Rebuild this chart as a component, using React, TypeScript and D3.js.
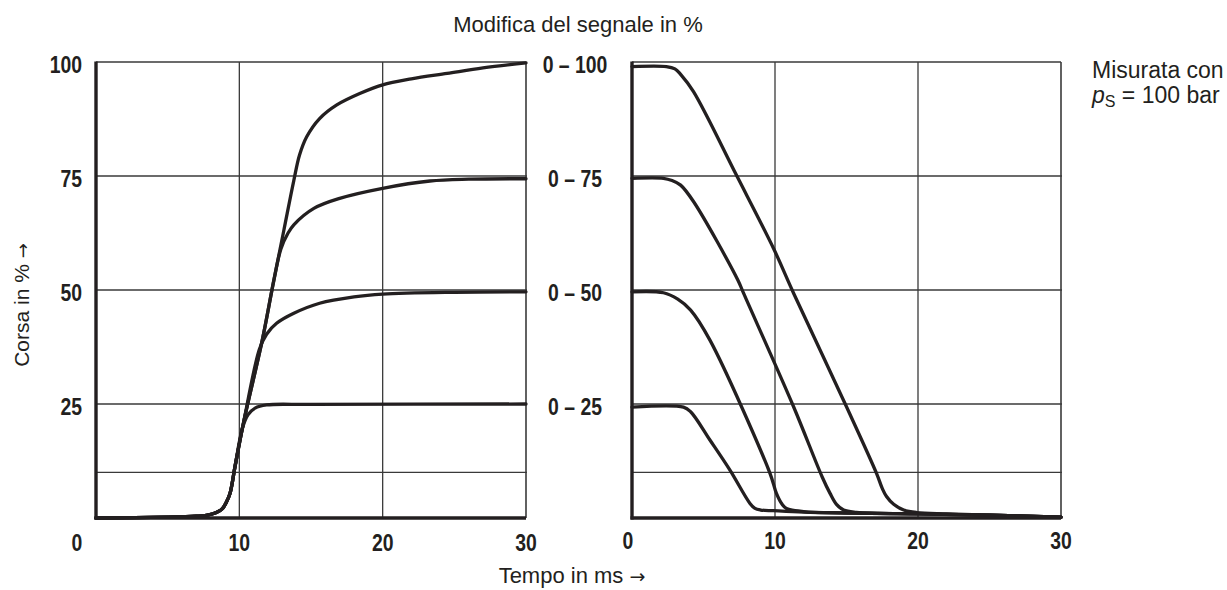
import React from 'react'
import * as d3 from 'd3'

// stroke in % after a step change of the signal, time in ms
const xTicks = [0, 10, 20, 30]
const yTicks = [100, 75, 50, 25]
const gridY = [75, 50, 25, 10]
const rangeLabels = ['0 – 100', '0 – 75', '0 – 50', '0 – 25']

// opening (left panel)
const open100: [number, number][] = [
  [0, 0], [5, 0.2], [7, 0.4], [7.7, 0.6], [8.4, 1.2], [8.8, 2], [9.1, 3.5], [9.35, 5.4], [9.7, 11.3],
  [10.3, 21], [11.6, 39], [12.4, 52], [13.1, 63], [13.8, 74], [14.2, 79.6], [14.7, 83.6], [15.6, 87.6],
  [16.8, 90.6], [18.4, 93.1], [20, 95], [22, 96.3], [24.5, 97.5], [27, 98.7], [30, 99.8],
]
const open75: [number, number][] = [
  [0, 0], [5, 0.2], [7, 0.4], [7.7, 0.6], [8.4, 1.2], [8.8, 2], [9.1, 3.5], [9.35, 5.4], [9.7, 11.3],
  [10.3, 21], [11.6, 39], [12.4, 52], [12.9, 59], [13.4, 62.5], [13.8, 64.3], [15.2, 67.9], [17, 70.1],
  [20, 72.3], [23.3, 73.9], [26, 74.3], [30, 74.4],
]
const open50: [number, number][] = [
  [0, 0], [5, 0.2], [7, 0.4], [7.7, 0.6], [8.4, 1.2], [8.8, 2], [9.1, 3.5], [9.35, 5.4], [9.7, 11.3],
  [10.3, 21], [11.4, 37], [11.9, 40.3], [12.6, 42.7], [13.8, 44.9], [15.6, 47.1], [18, 48.5], [20, 49.1],
  [25, 49.5], [30, 49.6],
]
const open25: [number, number][] = [
  [0, 0], [5, 0.2], [7, 0.4], [7.7, 0.6], [8.4, 1.2], [8.8, 2], [9.1, 3.5], [9.35, 5.4], [9.7, 11.3],
  [10.2, 19.5], [10.6, 22.6], [11.1, 24.1], [11.9, 24.8], [15, 24.9], [30, 25],
]

// closing (right panel)
const close100: [number, number][] = [
  [0, 99], [2.4, 99], [3.0, 98.5], [3.4, 97.3], [4.3, 93.5], [7.3, 75.2], [9.9, 59.1], [11.3, 49.3],
  [15, 24.4], [17.1, 9.8], [17.5, 6.5], [17.8, 4.7], [18.3, 3], [19, 1.75], [19.9, 1.2], [22, 0.9],
  [25, 0.6], [30, 0.2],
]
const close75: [number, number][] = [
  [0, 74.5], [2.2, 74.5], [2.8, 74], [3.4, 73], [4.3, 69.4], [7.4, 52.2], [7.8, 49.3], [11.3, 24.4],
  [13.3, 9], [13.85, 5.4], [14.3, 3], [14.8, 1.75], [15.7, 1.25], [20, 0.9], [25, 0.6], [30, 0.2],
]
const close50: [number, number][] = [
  [0, 49.6], [2.2, 49.4], [3.2, 48], [4.1, 45.6], [5.45, 39], [9.65, 9.8], [10.1, 5.4], [10.5, 3],
  [10.8, 2.1], [12, 1.4], [15, 1.1], [20, 0.9], [25, 0.6], [30, 0.2],
]
const close25: [number, number][] = [
  [0, 24.3], [3.6, 24.3], [4.1, 23.3], [5.45, 17.1], [6.85, 10.5], [8.25, 3.2], [8.6, 2.1], [9, 1.75],
  [9.9, 1.6], [12, 1.3], [15, 1.1], [20, 0.9], [25, 0.6], [30, 0.2],
]

const openSeries = [open100, open75, open50, open25]
const closeSeries = [close100, close75, close50, close25]

const W = 1227
const H = 590
const ink = '#231f20'
const gridColor = '#3a3a3a'
const sans = '"Liberation Sans", Arial, Helvetica, sans-serif'
const arrowFont = '"DejaVu Sans", sans-serif'

const y = d3.scaleLinear().domain([0, 100]).range([518, 62])

// bold, slightly condensed-looking numerals
function Num({ x, yPos, anchor, children }: { x: number, yPos: number, anchor: string, children: React.ReactNode }) {
  return (
    <text transform={`translate(${x},${yPos}) scale(0.97,1.15)`} textAnchor={anchor}
      fontFamily={sans} fontWeight="bold" fontSize={20} fill={ink}>{children}</text>
  )
}

function Panel({ left, right, series, zeroShift, labelY }: {
  left: number, right: number, series: [number, number][][], zeroShift: number, labelY: number
}) {
  const x = d3.scaleLinear().domain([0, 30]).range([left, right])
  const line = d3.line<[number, number]>()
    .x(d => x(d[0]))
    .y(d => y(d[1]))
    .curve(d3.curveCatmullRom.alpha(0.5))
  return (
    <g>
      {/* grid */}
      {gridY.map(v => (
        <line key={'h' + v} x1={x(0)} x2={x(30) + 1} y1={y(v)} y2={y(v)} stroke={gridColor} strokeWidth={1.3} />
      ))}
      {[10, 20].map(v => (
        <line key={'v' + v} x1={x(v)} x2={x(v)} y1={y(100)} y2={y(0)} stroke={gridColor} strokeWidth={1.3} />
      ))}
      <line x1={x(0)} x2={x(30)} y1={y(100)} y2={y(100)} stroke={gridColor} strokeWidth={1.5} />
      <line x1={x(30)} x2={x(30)} y1={y(100)} y2={y(0)} stroke={gridColor} strokeWidth={1.6} />
      {/* curves */}
      {series.map((s, i) => (
        <path key={i} d={line(s) ?? ''} fill="none" stroke={ink} strokeWidth={3.3} strokeLinejoin="round" strokeLinecap="round" />
      ))}
      {/* axes */}
      <line x1={x(0)} x2={x(0)} y1={y(100) - 0.5} y2={y(0) + 1.5} stroke={ink} strokeWidth={3.4} />
      <line x1={x(0) - 1.5} x2={x(30)} y1={y(0)} y2={y(0)} stroke={ink} strokeWidth={3.4} />
      {xTicks.map(v => (
        <Num key={v} x={x(v) + (v === 0 ? zeroShift : 0)} yPos={labelY} anchor="middle">{v}</Num>
      ))}
    </g>
  )
}

export default function App() {
  return (
    <svg width={W} height={H} viewBox={`0 0 ${W} ${H}`}
      style={{ position: 'absolute', left: 0, top: 0, background: '#fff' }}>
      <text x={578} y={32} textAnchor="middle" fontFamily={sans} fontSize={22} fill={ink}>Modifica del segnale in %</text>

      <Panel left={96} right={526} series={openSeries} zeroShift={-19} labelY={551} />
      <Panel left={632} right={1061} series={closeSeries} zeroShift={-4} labelY={549} />

      {yTicks.map(v => (
        <Num key={v} x={82} yPos={y(v) + 11} anchor="end">{v}</Num>
      ))}
      {rangeLabels.map((t, i) => (
        <Num key={t} x={575} yPos={y(yTicks[i]) + 11} anchor="middle">{t}</Num>
      ))}

      <text transform="translate(29,305) rotate(-90)" textAnchor="middle" fontFamily={sans} fontSize={21} fill={ink}>
        Corsa in % <tspan fontFamily={arrowFont} fontSize={18}>→</tspan>
      </text>
      <text x={572} y={583} textAnchor="middle" fontFamily={sans} fontSize={22} fill={ink}>
        Tempo in ms <tspan fontFamily={arrowFont} fontSize={19}>→</tspan>
      </text>

      <text x={1092} y={78} fontFamily={sans} fontSize={23} fill={ink}>Misurata con</text>
      <text x={1092} y={103} fontFamily={sans} fontSize={23} fill={ink}>
        <tspan fontStyle="italic">p</tspan>
        <tspan fontSize={16} dy={4}>S</tspan>
        <tspan dy={-4}> = 100 bar</tspan>
      </text>
    </svg>
  )
}
